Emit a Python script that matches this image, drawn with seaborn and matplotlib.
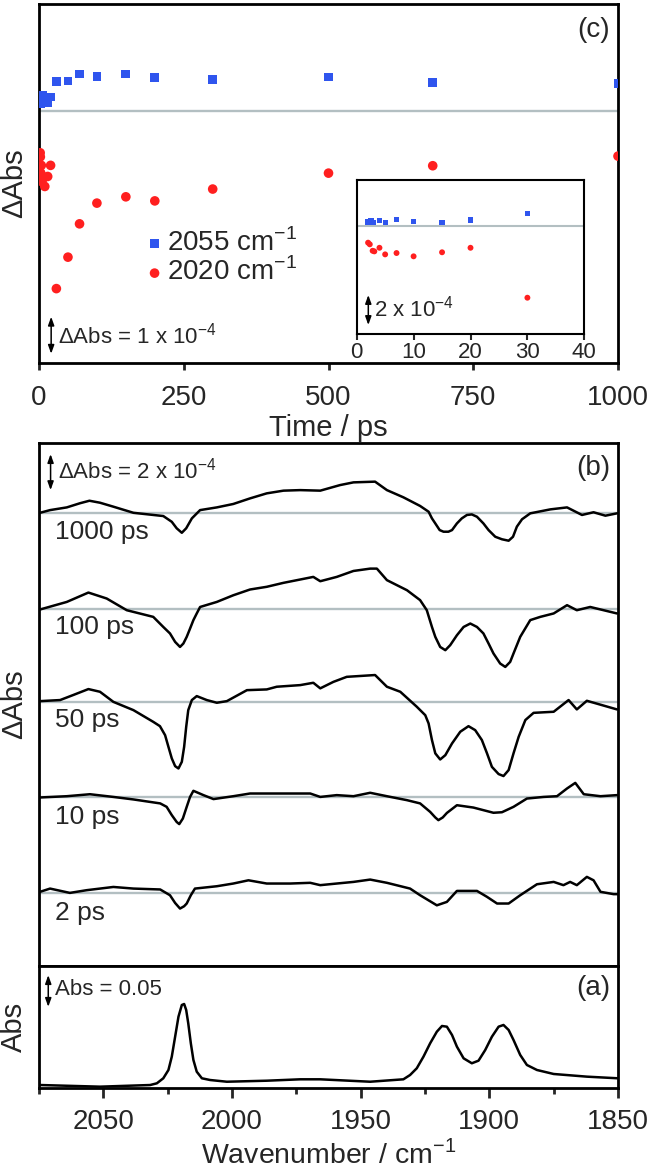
import numpy as np
import matplotlib
matplotlib.use("Agg")
import matplotlib.pyplot as plt
import matplotlib.transforms as mtransforms
from matplotlib.ticker import FixedLocator
import seaborn as sns

sns.set_theme(style="white")
plt.rcParams['font.family'] = ['Liberation Sans', 'DejaVu Sans']
plt.rcParams['mathtext.fontset'] = 'custom'
plt.rcParams['mathtext.rm'] = 'Liberation Sans'
plt.rcParams['axes.unicode_minus'] = True

# ---------------- data (c): kinetics, units of 1e-4 dAbs ----------------
blue_t = [2, 2.5, 2.9, 4, 5, 7, 10, 15, 20, 30, 50, 70, 100, 150, 200, 300, 500, 680, 1000]
blue_v = [0.25, 0.33, 0.20, 0.36, 0.23, 0.43, 0.27, 0.23, 0.38, 0.80, 0.81, 1.00, 0.93, 1.00, 0.91, 0.86, 0.92, 0.76, 0.74]
red_t = [2, 2.3, 2.8, 3.1, 4, 5, 7, 10, 15, 20, 30, 50, 70, 100, 150, 200, 300, 500, 680, 1000]
red_v = [-1.13, -1.24, -1.67, -1.71, -1.47, -1.91, -1.82, -2.04, -1.77, -1.47, -4.80,
         -3.95, -3.05, -2.49, -2.32, -2.43, -2.11, -1.68, -1.48, -1.22]
time_ticks = [0, 250, 500, 750, 1000]
inset_ticks = [0, 10, 20, 30, 40]

# ---------------- data (b): TRIR spectra, units of 1e-4 dAbs ----------------
wn_1000 = [2074.6, 2070.7, 2064.2, 2059.1, 2055.4, 2051.3, 2046.1, 2038.3, 2026.7, 2023.4, 2021.5, 2019.5,
           2017.8, 2015.6, 2012.4, 2005.9, 1999.5, 1993.0, 1986.5, 1980.0, 1973.5, 1965.7, 1958.0, 1952.8,
           1944.4, 1939.8, 1933.4, 1926.9, 1923.6, 1922.3, 1921.0, 1919.3, 1917.8, 1915.9, 1914.5, 1912.6,
           1910.7, 1908.7, 1906.8, 1904.8, 1902.3, 1900.3, 1897.7, 1895.1, 1892.5, 1890.8, 1889.3, 1887.3,
           1884.1, 1876.3, 1869.8, 1864.0, 1859.5, 1854.9, 1850.4]
ps_1000 = [0.03, 0.18, 0.33, 0.56, 0.70, 0.59, 0.37, 0.03, -0.15, -0.47, -0.83, -1.08,
           -0.83, -0.28, 0.18, 0.33, 0.52, 0.83, 1.11, 1.26, 1.29, 1.26, 1.57, 1.72,
           1.76, 1.29, 0.89, 0.41, 0.09, -0.28, -0.56, -0.93, -1.02, -1.02, -0.93, -0.56,
           -0.28, -0.09, -0.06, -0.19, -0.56, -0.93, -1.30, -1.44, -1.52, -1.30, -0.74, -0.33,
           0.00, 0.22, 0.33, -0.09, 0.06, -0.13, 0.00]

wn_100 = [2074.6, 2064.2, 2055.8, 2048.7, 2040.9, 2030.6, 2026.7, 2024.1, 2022.1, 2020.2, 2018.9, 2017.6,
          2016.3, 2015.0, 2013.7, 2012.4, 2005.9, 1999.5, 1993.0, 1986.5, 1980.0, 1968.4, 1965.7, 1959.3,
          1952.8, 1946.3, 1943.7, 1939.8, 1932.0, 1926.9, 1924.3, 1922.3, 1921.0, 1919.1, 1917.1, 1915.2,
          1912.6, 1910.0, 1907.4, 1904.8, 1902.3, 1900.3, 1898.4, 1895.8, 1893.8, 1891.9, 1890.6, 1888.0,
          1884.1, 1880.2, 1875.0, 1869.8, 1866.0, 1860.8, 1850.4]
ps_100 = [0.00, 0.42, 0.94, 0.61, -0.04, -0.41, -0.97, -1.33, -1.80, -2.08, -1.89, -1.52,
          -1.06, -0.59, -0.22, 0.14, 0.42, 0.79, 1.11, 1.26, 1.48, 1.81, 1.57, 1.81,
          2.14, 2.27, 2.27, 1.63, 1.07, 0.52, -0.04, -0.97, -1.52, -2.08, -2.26, -1.98,
          -1.43, -0.97, -0.78, -0.97, -1.33, -1.89, -2.44, -3.00, -3.19, -2.91, -2.44, -1.52,
          -0.59, -0.41, -0.22, 0.24, -0.04, 0.14, -0.22]

wn_50 = [2074.6, 2066.8, 2061.7, 2055.8, 2051.3, 2046.1, 2038.3, 2030.6, 2028.0, 2026.0, 2024.7, 2023.4,
         2022.1, 2020.8, 2019.5, 2018.6, 2017.8, 2017.0, 2015.6, 2013.7, 2009.8, 2005.9, 2002.0, 1994.2,
         1986.5, 1982.6, 1973.5, 1968.4, 1965.7, 1960.6, 1955.4, 1944.4, 1939.8, 1934.6, 1928.2, 1924.9,
         1923.6, 1922.3, 1921.0, 1919.1, 1917.1, 1914.5, 1911.3, 1908.1, 1905.5, 1902.9, 1900.9, 1899.0,
         1896.4, 1894.5, 1892.5, 1890.6, 1888.6, 1886.0, 1882.8, 1875.0, 1869.2, 1866.0, 1862.1, 1850.4]
ps_50 = [0.07, 0.13, 0.41, 0.74, 0.59, 0.03, -0.43, -1.08, -1.32, -1.82, -2.47, -3.11,
         -3.54, -3.67, -3.30, -2.47, -1.36, -0.43, 0.13, 0.35, 0.13, -0.02, 0.07, 0.68,
         0.72, 0.87, 0.96, 1.09, 0.78, 1.14, 1.42, 1.52, 0.87, 0.59, -0.24, -0.71,
         -1.17, -2.09, -2.83, -3.17, -2.93, -2.28, -1.63, -1.32, -1.54, -2.09, -2.83, -3.58,
         -3.98, -4.09, -3.76, -2.83, -1.91, -0.98, -0.58, -0.52, 0.13, -0.39, 0.09, -0.39]

wn_10 = [2074.6, 2064.2, 2055.2, 2046.1, 2038.3, 2027.9, 2025.4, 2023.4, 2021.5, 2020.5, 2019.1, 2017.6,
         2016.3, 2015.0, 2011.1, 2007.2, 1999.5, 1993.0, 1982.6, 1969.6, 1965.7, 1959.3, 1952.8, 1946.3,
         1939.8, 1932.0, 1926.9, 1923.0, 1921.0, 1919.8, 1918.1, 1916.5, 1912.6, 1906.2, 1898.4, 1895.1,
         1890.6, 1885.4, 1878.9, 1873.7, 1869.8, 1866.6, 1863.3, 1856.8, 1850.4]
ps_10 = [0.00, 0.07, 0.18, 0.03, -0.11, -0.33, -0.52, -0.98, -1.36, -1.48, -1.17, -0.52,
         0.03, 0.37, 0.13, -0.09, 0.07, 0.22, 0.22, 0.22, 0.03, 0.13, 0.07, 0.26,
         0.07, -0.15, -0.33, -0.80, -1.11, -1.26, -1.11, -0.86, -0.43, -0.56, -0.85, -0.82,
         -0.52, -0.06, 0.03, 0.07, 0.50, 0.81, 0.18, 0.07, 0.13]

wn_2 = [2074.6, 2070.7, 2063.0, 2056.5, 2046.1, 2038.3, 2027.9, 2024.1, 2022.1, 2020.2, 2018.6, 2017.6,
        2016.0, 2014.4, 2005.9, 1999.5, 1993.6, 1986.5, 1977.4, 1969.6, 1965.7, 1959.3, 1952.8, 1946.3,
        1939.8, 1930.8, 1926.9, 1920.4, 1916.5, 1912.6, 1904.8, 1900.9, 1897.0, 1892.5, 1888.0, 1881.5,
        1875.0, 1871.2, 1868.6, 1866.0, 1862.1, 1859.5, 1856.8, 1851.7, 1850.0]
ps_2 = [0.06, 0.24, 0.00, 0.15, 0.33, 0.24, 0.19, -0.13, -0.56, -0.87, -0.74, -0.59,
        -0.13, 0.24, 0.37, 0.52, 0.70, 0.52, 0.52, 0.56, 0.43, 0.52, 0.61, 0.74,
        0.56, 0.24, -0.13, -0.69, -0.50, 0.11, 0.11, -0.22, -0.59, -0.59, -0.13, 0.48,
        0.61, 0.43, 0.61, 0.43, 0.89, 0.70, 0.06, -0.07, -0.07]

trace_labels = ['1000 ps', '100 ps', '50 ps', '10 ps', '2 ps']
trace_offsets = [21.08, 15.74, 10.58, 5.30, 0.0]

# ---------------- data (a): FTIR ----------------
wn_ftir = [2074.6, 2051.3, 2031.8, 2029.2, 2026.7, 2024.7, 2023.4, 2022.1, 2020.8, 2019.5, 2018.6, 2017.8,
           2017.0, 2016.0, 2015.0, 2013.7, 2011.7, 2008.5, 2002.0, 1986.5, 1973.5, 1965.7, 1946.3, 1933.4,
           1930.8, 1928.2, 1925.6, 1923.0, 1920.4, 1918.4, 1916.5, 1914.5, 1912.6, 1910.0, 1906.8, 1904.2,
           1901.6, 1899.0, 1896.4, 1894.5, 1892.5, 1890.6, 1888.0, 1885.4, 1881.5, 1875.0, 1862.1, 1850.0]
abs_ftir = [0.0047, 0.0021, 0.0047, 0.0074, 0.0153, 0.0284, 0.0494, 0.0809, 0.1125, 0.1309, 0.1325, 0.1230,
            0.1020, 0.0705, 0.0442, 0.0257, 0.0153, 0.0126, 0.0099, 0.0115, 0.0137, 0.0137, 0.0099, 0.0137,
            0.0205, 0.0311, 0.0494, 0.0705, 0.0888, 0.0978, 0.0967, 0.0836, 0.0652, 0.0468, 0.0390, 0.0431,
            0.0599, 0.0809, 0.0967, 0.0994, 0.0915, 0.0757, 0.0521, 0.0363, 0.0284, 0.0221, 0.0179, 0.0153]
wn_ticks = [2050, 2000, 1950, 1900, 1850]

# ---------------- style ----------------
BLUE = '#2f55ee'
RED = '#ff1f1f'
GRAY = '#b3bfc2'
SPINE_W = 2.0
TICK_FS = 20
LABEL_FS = 21
LINE_KW = dict(color='black', lw=1.8, sort=False, estimator=None,
               solid_joinstyle='round', solid_capstyle='round')

fig = plt.figure(figsize=(6.54, 11.68), dpi=100)
L, W = 39 / 654, 579 / 654


def fy(px):
    return 1 - px / 1168


def style_axes(ax, lw=SPINE_W):
    for s in ax.spines.values():
        s.set_visible(True)
        s.set_linewidth(lw)
        s.set_color('black')
    ax.grid(False)
    ax.set_facecolor('white')


def scalebar(ax, x, y0, y1, text, tx, ty, fs):
    tr = mtransforms.blended_transform_factory(ax.transAxes, ax.transData)
    ax.annotate('', xy=(x, y0), xytext=(x, y1), xycoords=tr, textcoords=tr,
                arrowprops=dict(arrowstyle='<|-|>,head_length=0.5,head_width=0.18',
                                lw=1.1, color='black', shrinkA=0, shrinkB=0,
                                mutation_scale=10))
    ax.text(tx, ty, text, transform=tr, fontsize=fs, va='center', ha='left')


YLAB_X = -0.019

# ---------------- panel (c) ----------------
axc = fig.add_axes([L, fy(363), W, (363 - 4) / 1168])
style_axes(axc)
axc.axhline(0, color=GRAY, lw=1.7, zorder=1)
sns.scatterplot(x=blue_t, y=blue_v, marker='s', s=40, color=BLUE, edgecolor='none',
                ax=axc, label='2055 cm$^{\u22121}$', zorder=3)
sns.scatterplot(x=red_t, y=red_v, marker='o', s=48, color=RED, edgecolor='none',
                ax=axc, label='2020 cm$^{\u22121}$', zorder=3)
axc.set_xlim(0, 1000)
axc.set_ylim(-6.81, 2.89)
axc.xaxis.set_major_locator(FixedLocator(time_ticks))
axc.set_xticklabels([str(t) for t in time_ticks])
axc.set_yticks([])
axc.tick_params(axis='x', direction='out', length=5, width=SPINE_W, labelsize=TICK_FS,
                bottom=True, pad=11)
axc.set_xlabel('Time / ps', fontsize=LABEL_FS, labelpad=2)
axc.set_ylabel('\u0394Abs', fontsize=LABEL_FS)
axc.yaxis.set_label_coords(YLAB_X, 0.5)
axc.legend(loc='upper left', bbox_to_anchor=(0.19, 0.376), frameon=False,
           fontsize=TICK_FS, handlelength=0.4, handletextpad=0.25, borderpad=0,
           borderaxespad=0, labelspacing=0.05, markerscale=1.0)
axc.text(0.986, 0.9276, '(c)', transform=axc.transAxes, ha='right', va='center', fontsize=TICK_FS)
scalebar(axc, 0.021, -5.56, -6.56, '\u0394Abs = 1 x 10$^{\u22124}$', 0.033, -6.06, 16)

# inset
axi = fig.add_axes([356.7 / 654, fy(334), 227.6 / 654, 154 / 1168])
style_axes(axi, lw=1.5)
axi.axhline(0, color=GRAY, lw=1.5, zorder=1)
sns.scatterplot(x=blue_t, y=blue_v, marker='s', s=14, color=BLUE, edgecolor='none', ax=axi, zorder=3)
sns.scatterplot(x=red_t, y=red_v, marker='o', s=18, color=RED, edgecolor='none', ax=axi, zorder=3)
axi.set_xlim(0, 40)
axi.set_ylim(-7.22, 3.05)
axi.xaxis.set_major_locator(FixedLocator(inset_ticks))
axi.set_xticklabels([str(t) for t in inset_ticks])
axi.set_yticks([])
axi.tick_params(axis='x', direction='out', length=4, width=1.5, labelsize=16, bottom=True, pad=2)
axi.set_xlabel('')
axi.set_ylabel('')
scalebar(axi, 0.051, -4.62, -6.62, '2 x 10$^{\u22124}$', 0.075, -5.55, 16)

# ---------------- panel (b) ----------------
axb = fig.add_axes([L, fy(966), W, (966 - 443.3) / 1168])
style_axes(axb)
traces = [(wn_1000, ps_1000), (wn_100, ps_100), (wn_50, ps_50), (wn_10, ps_10), (wn_2, ps_2)]
for (wn, v), off in zip(traces, trace_offsets):
    axb.axhline(off, color=GRAY, lw=1.7, zorder=1)
    sns.lineplot(x=wn, y=np.asarray(v) + off, ax=axb, zorder=3, **LINE_KW)
label_y = [20.06, 14.76, 9.59, 4.22, -1.14]
tb = mtransforms.blended_transform_factory(axb.transAxes, axb.transData)
for lab, ly in zip(trace_labels, label_y):
    axb.text(0.028, ly, lab, transform=tb, fontsize=19, va='center', ha='left')
axb.set_xlim(2075, 1850)
axb.set_ylim(-4.06, 24.97)
axb.set_xticks([])
axb.set_yticks([])
axb.set_xlabel('')
axb.set_ylabel('\u0394Abs', fontsize=LABEL_FS)
axb.yaxis.set_label_coords(YLAB_X, 0.5)
axb.text(0.986, 0.953, '(b)', transform=axb.transAxes, ha='right', va='center', fontsize=TICK_FS)
scalebar(axb, 0.02, 22.37, 24.37, '\u0394Abs = 2 x 10$^{\u22124}$', 0.033, 23.48, 16)

# ---------------- panel (a) ----------------
axa = fig.add_axes([L, fy(1088), W, (1088 - 966) / 1168])
style_axes(axa)
sns.lineplot(x=wn_ftir, y=abs_ftir, ax=axa, **LINE_KW)
axa.set_xlim(2075, 1850)
axa.set_ylim(0, 0.1924)
axa.xaxis.set_major_locator(FixedLocator(wn_ticks))
axa.set_xticklabels([str(t) for t in wn_ticks])
axa.xaxis.set_minor_locator(FixedLocator([2075, 2025, 1975, 1925, 1875]))
axa.set_yticks([])
axa.tick_params(axis='x', which='major', direction='out', length=7, width=SPINE_W,
                labelsize=TICK_FS, bottom=True, pad=8)
axa.tick_params(axis='x', which='minor', direction='out', length=4, width=SPINE_W, bottom=True)
axa.set_xlabel('Wavenumber / cm$^{\u22121}$', fontsize=20.5, labelpad=3)
axa.set_ylabel('Abs', fontsize=LABEL_FS)
axa.yaxis.set_label_coords(YLAB_X, 0.5)
axa.text(0.986, 0.82, '(a)', transform=axa.transAxes, ha='right', va='center', fontsize=TICK_FS)
scalebar(axa, 0.016, 0.128, 0.178, 'Abs = 0.05', 0.028, 0.1546, 16)

fig.savefig('out.png', dpi=100)
